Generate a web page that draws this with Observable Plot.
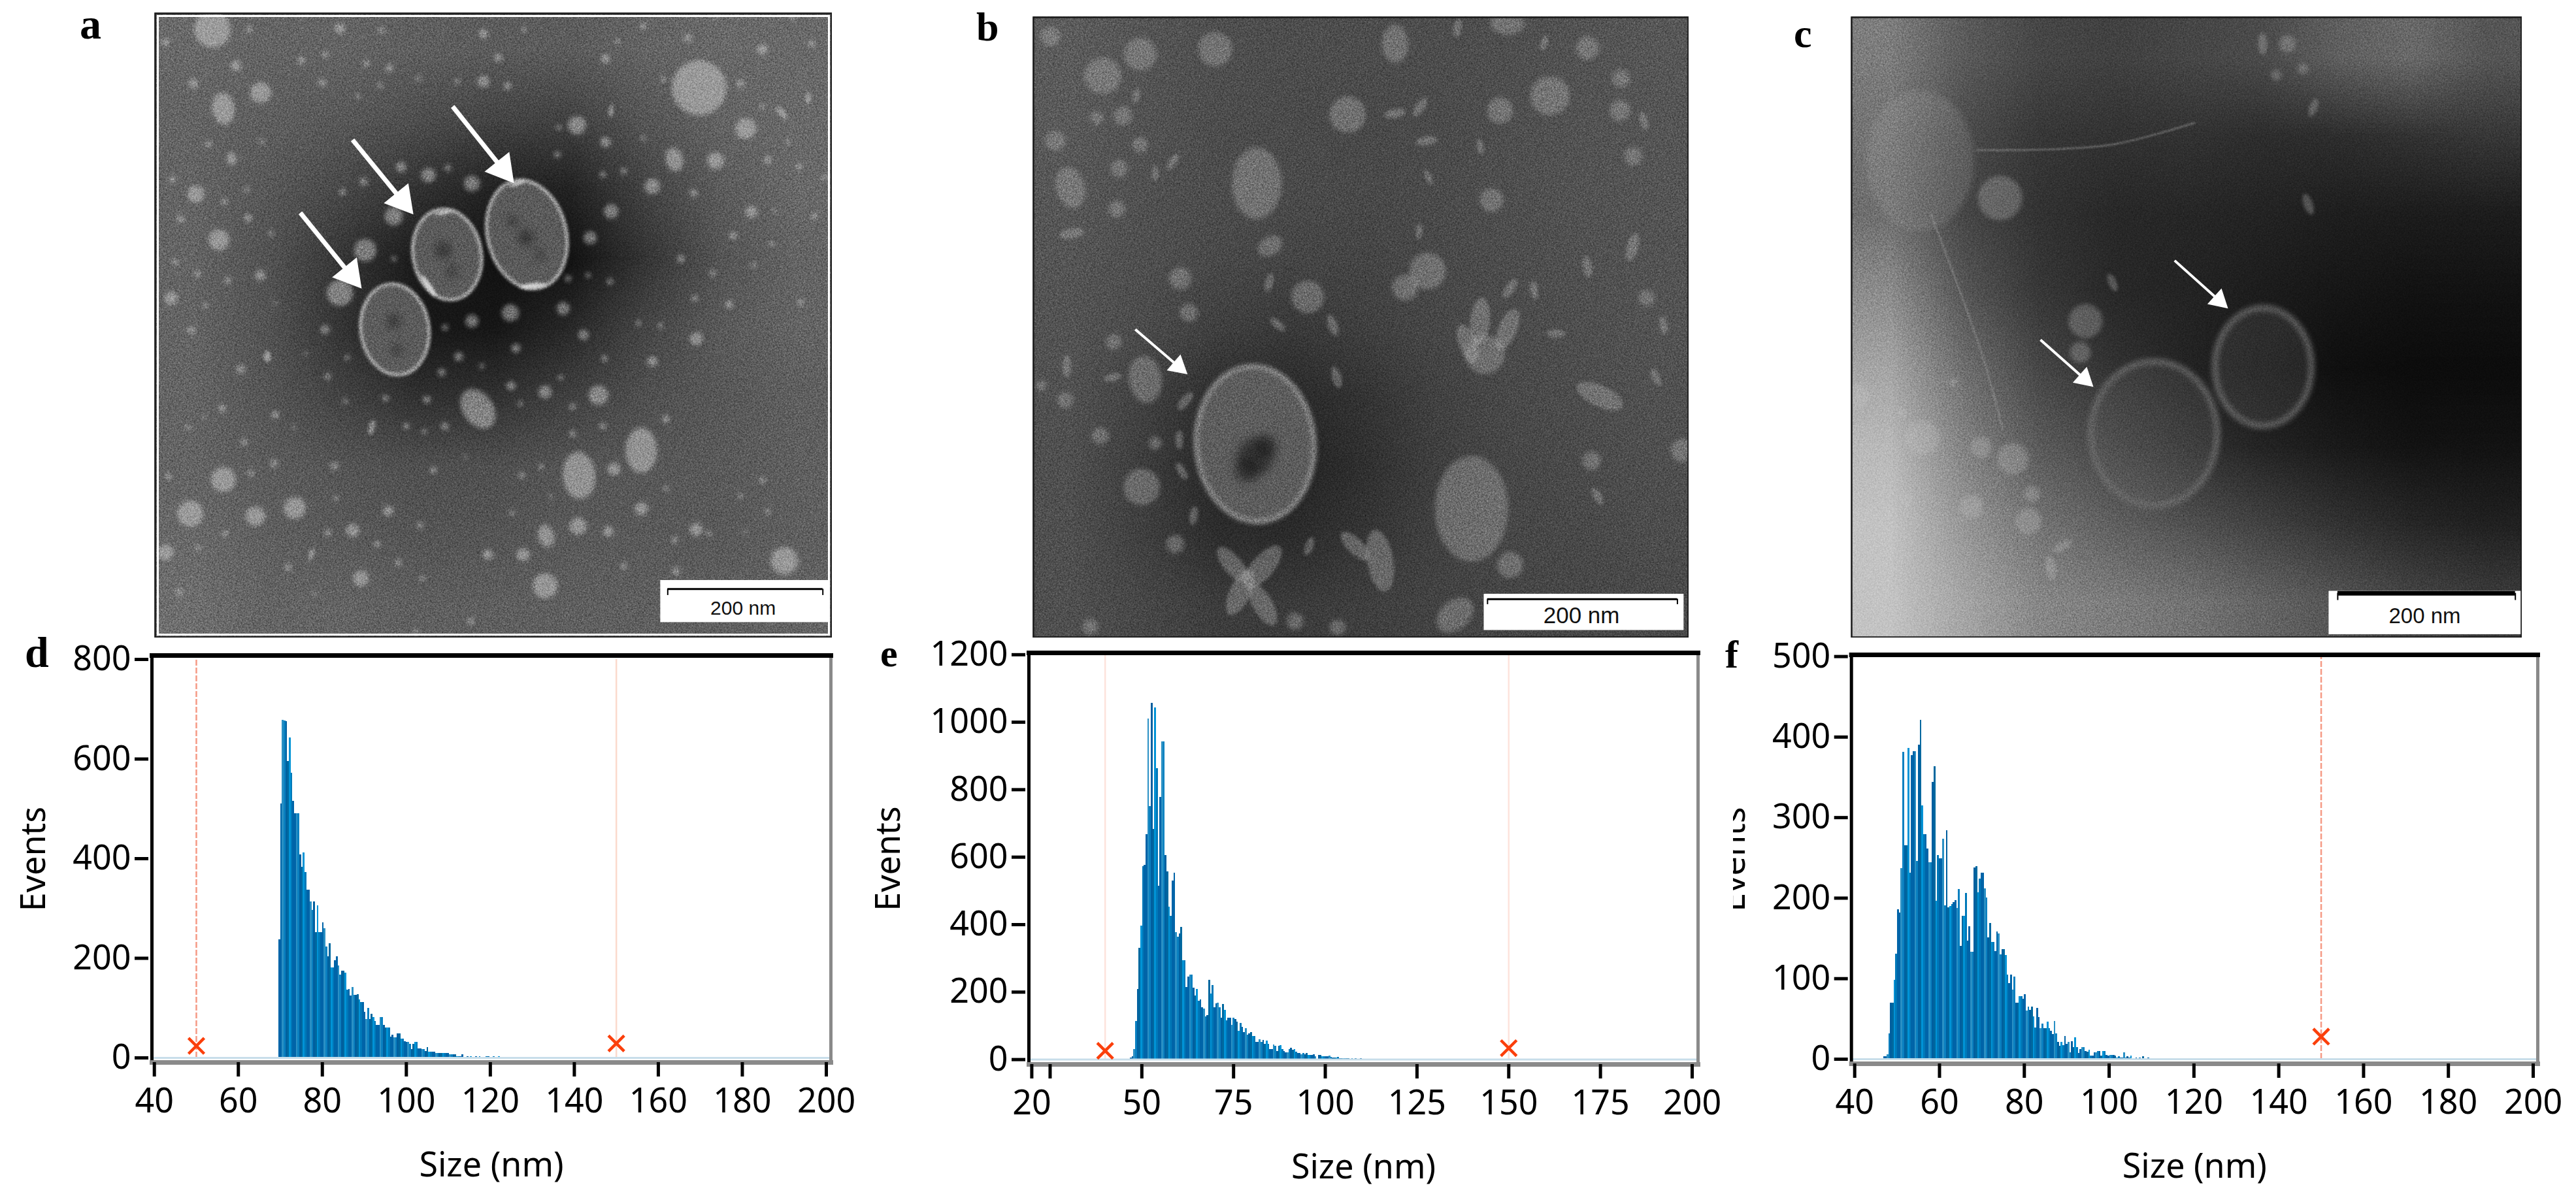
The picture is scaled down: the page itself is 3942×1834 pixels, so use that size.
<!DOCTYPE html>
<html>
<head>
<meta charset="utf-8">
<script src="https://cdn.jsdelivr.net/npm/d3@7"></script>
<script src="https://cdn.jsdelivr.net/npm/@observablehq/plot@0.6"></script>
<style>
html,body{margin:0;padding:0;background:#fff}
#stage{position:relative;width:3942px;height:1834px;overflow:hidden;background:#fff}
#stage svg{position:absolute;background:transparent}
.tag{position:absolute;font-family:"Liberation Serif",serif;font-weight:bold;font-size:64px;line-height:1;color:#000}
</style>
</head>
<body>
<svg width="0" height="0" style="position:absolute">
  <filter id="grain" x="0" y="0" width="100%" height="100%" color-interpolation-filters="sRGB">
    <feTurbulence type="fractalNoise" baseFrequency="0.7" numOctaves="2" seed="4"/>
    <feColorMatrix type="matrix" values="1.5 0 0 0 -0.25  1.5 0 0 0 -0.25  1.5 0 0 0 -0.25  0 0 0 0 1"/>
  </filter>
</svg>
<div id="stage"></div>
<script>
// ---------- size distributions (events per bin) ----------
const eventsD = [238,510,678,677,675,595,643,572,515,491,490,490,408,383,412,373,337,337,313,296,313,252,306,252,252,272,260,223,203,230,181,181,196,203,185,166,174,174,170,136,138,125,141,126,126,127,117,112,112,92,78,100,78,88,81,73,66,66,81,81,66,60,60,60,42,46,41,41,49,49,38,38,33,31,31,28,17,27,31,31,18,18,17,17,13,21,12,12,12,12,9,9,9,9,9,9,9,9,6,6,6,6,3,3,3,6,1,1,2,1,2,1,1,2,1,2,1,1,1,2,2,1,1,2,1,1,2,1,1,1,0,1,1,0,1,0,1,0,0,1,0,1,0,0,1,0,0,1];
const eventsE = [5,8,30,114,209,330,397,572,577,667,1010,751,1057,683,1042,862,514,778,942,942,605,556,452,425,529,553,376,364,372,393,293,293,215,246,251,251,213,188,209,173,178,154,150,127,131,236,194,219,155,165,167,155,123,163,146,116,123,123,102,123,119,112,85,108,96,81,93,73,77,81,68,68,51,51,60,51,58,45,56,45,31,31,43,39,25,39,41,30,25,20,20,31,35,28,30,22,18,18,15,18,15,18,12,12,12,14,8,2,12,12,8,8,8,8,10,7,5,5,5,7,3,3,3,4,3,3,2,3,2,4,2,2,3,2,1,2,2,1,2,1,1,1,2,1,1,0,1,1,0,1,0,0,1];
const eventsF = [3,3,6,32,70,70,98,131,186,182,237,381,265,265,386,231,377,382,382,246,390,421,315,279,279,261,244,244,344,363,196,253,249,249,273,191,284,188,190,192,195,197,187,211,140,178,178,206,147,165,133,133,238,239,207,224,231,231,212,200,151,169,145,145,134,158,156,130,136,136,129,105,94,105,86,102,70,70,78,78,75,80,60,65,61,65,53,39,63,52,38,44,38,38,46,38,35,31,47,32,21,16,21,17,28,19,21,8,22,15,27,15,7,12,15,15,10,9,11,4,4,8,8,10,10,4,10,10,5,4,5,5,5,4,2,3,2,2,8,2,3,2,4,1,1,2,1,2,1,3,1,1,2,1,1,0,1,1,0,1];

const sizeTicksD = [40,60,80,100,120,140,160,180,200];
const sizeTicksE = [20,25,50,75,100,125,150,175,200];
const sizeTicksF = [40,60,80,100,120,140,160,180,200];
const eventTicksD = [0,200,400,600,800];
const eventTicksE = [0,200,400,600,800,1000,1200];
const eventTicksF = [0,100,200,300,400,500];
const gatesD = [{size:50,events:24,line:"#f59a85",dash:"9,3"},{size:150,events:29,line:"#fbd9cc",dash:"none"}];
const gatesE = [{size:40,events:26,line:"#fde3dc",dash:"none"},{size:150,events:34,line:"#fde3dc",dash:"none"}];
const gatesF = [{size:150,events:28,line:"#f59a85",dash:"9,3"}];
const barShades = ["#0064a8","#0064a8","#2a90c4","#0a80c0","#005f9f","#00689f","#0093d6","#0078b8"];

// ---------- micrograph a ----------
const greyA = [105,100,100,95,92,92,100,105,105, 100,95,88,78,68,66,86,100,105, 100,88,72,50,34,34,68,92,105, 100,82,52,26,18,18,52,85,100, 100,82,50,24,22,40,70,90,100, 100,85,66,48,50,65,80,88,95, 100,92,85,80,80,85,88,90,95, 105,95,90,85,85,90,90,90,95, 110,100,100,95,95,95,95,95,100];
const roundA = [[385,70,28],[1270,210,42],[473,222,16],[1048,300,14],[1355,308,16],[1300,385,13],[355,465,13],[397,575,16],[663,600,17],[617,702,20],[715,518,14],[778,420,11],[857,440,12],[927,750,13],[857,770,10],[1023,740,10],[1072,570,10],[1110,507,11],[1185,447,12],[1100,340,8],[1087,948,15],[990,940,10],[405,1150,19],[345,1232,20],[463,1238,15],[535,1218,17],[300,1325,12],[655,1387,12],[640,1272,10],[990,1405,19],[1050,1262,13],[950,1330,10],[886,1330,8],[1425,1345,21],[1165,1220,10],[1105,1275,8],[1265,1270,10],[1115,1125,10],[310,715,10],[1265,812,10],[1185,867,8],[1365,508,9],[1060,803,8],[300,100,6],[452,70,5],[617,68,8],[692,72,5],[878,80,7],[952,70,4],[1168,62,5],[1250,90,6],[1385,118,8],[1475,105,5],[1440,42,4],[1122,98,4],[590,130,5],[547,145,6],[428,157,8],[665,152,5],[707,163,6],[905,138,6],[1100,140,7],[1300,45,3],[350,200,7],[585,198,6],[690,205,4],[760,188,4],[830,195,4],[878,195,9],[922,205,6],[650,230,4],[1205,190,4],[1345,200,6],[1385,255,4],[378,345,5],[475,340,4],[1015,305,4],[1168,330,4],[1432,340,4],[1012,370,5],[1395,383,6],[1452,400,5],[1498,425,4],[312,430,5],[1095,418,5],[1133,410,5],[728,400,8],[660,435,6],[622,460,5],[813,402,5],[448,455,4],[407,483,5],[327,525,6],[450,522,6],[492,560,4],[1260,463,6],[1480,518,5],[1405,505,3],[1332,565,6],[1402,585,4],[318,628,5],[358,657,5],[413,672,5],[472,660,8],[1237,620,6],[1295,655,5],[1370,635,4],[372,732,4],[500,727,3],[715,620,4],[1032,668,5],[1068,660,4],[1108,675,5],[1262,715,5],[1325,730,6],[1455,725,5],[347,792,6],[590,790,7],[808,785,5],[1160,775,4],[1200,780,4],[485,855,5],[437,885,7],[630,857,4],[555,848,3],[833,855,7],[937,835,7],[875,878,4],[802,893,6],[1098,860,5],[595,903,5],[928,925,7],[1018,905,4],[1040,975,5],[945,968,4],[775,958,6],[700,955,5],[627,962,4],[403,980,6],[500,995,6],[370,1000,3],[1210,1005,6],[1095,1022,5],[1040,1040,5],[738,1022,5],[770,1035,4],[808,1023,6],[340,1025,4],[533,1025,3],[443,1060,5],[497,1112,6],[607,1118,6],[787,1128,5],[845,1095,3],[455,1135,5],[305,1143,5],[948,1140,5],[983,1120,4],[1385,1152,5],[1210,1172,4],[610,1195,4],[705,1225,8],[930,1230,4],[1000,1190,3],[1345,1190,4],[1395,1228,4],[408,1280,5],[595,1278,5],[763,1260,5],[1225,1295,5],[1288,1280,4],[1355,1275,3],[360,1315,4],[685,1305,5],[723,1350,5],[523,1360,5],[1133,1358,5],[1228,1370,6],[767,1387,4],[325,1420,5],[570,1425,3],[855,1490,5],[755,1515,4]];
const ovalA = [[868,980,23,-35],[1165,1080,24,0],[1052,1140,25,-5],[992,1285,12,-15],[1225,382,13,-15],[405,260,17,-10],[420,380,7,-10]];
const longA = [[1110,265,4,5],[1468,235,4,0],[1420,270,5,-40],[565,1330,4,15],[675,1025,5,15],[485,855,4,-5]];
const ringsA = [{x:717,y:790,r:52,aspect:1.34,rot:-8},{x:812,y:610,r:52,aspect:1.34,rot:-10},{x:957,y:562,r:60,aspect:1.4,rot:-14}];
const coresA = [[715,770,10],[720,840,8],[805,600,12],[820,650,8],[955,570,12],[930,530,8],[980,610,7]];
const glintsA = [[778,685,4,-35],[968,685,4,85],[940,440,2.5,70],[805,510,2.5,80]];
const pointersA = [{x1:822,y1:255,x2:925,y2:425},{x1:640,y1:335,x2:742,y2:500},{x1:545,y1:510,x2:648,y2:678}];

// ---------- micrograph b ----------
const greyB = [92,85,79,77,77,77,79,83,87, 90,83,77,75,73,75,79,83,85, 87,81,77,75,73,75,79,83,85, 85,79,73,69,69,73,77,81,83, 83,75,63,57,63,71,75,79,83, 81,65,45,41,51,65,73,77,81, 79,61,39,35,47,63,71,75,79, 79,63,45,43,53,65,71,73,77, 79,71,61,59,63,67,69,71,73];
const roundB = [[165,88,15],[495,118,26],[270,182,28],[310,278,14],[258,283,10],[345,347,12],[175,338,15],[303,405,13],[298,502,13],[1240,115,18],[1307,188,14],[1165,230,30],[1065,265,20],[1305,265,16],[1332,375,14],[1048,480,18],[425,668,17],[442,750,14],[680,712,25],[292,820,12],[265,1045,13],[348,1168,28],[375,1063,10],[415,1305,14],[1248,1105,14],[1085,1355,20],[1358,715,12],[760,275,28],[875,690,20],[920,650,28],[345,130,25],[1430,1080,18],[245,1503,12],[655,1490,13],[740,1505,12],[195,960,12],[147,925,8],[1035,850,30]];
const ovalB = [[578,440,38,0],[1008,1220,56,0],[855,105,20,0],[1080,55,18,90],[205,450,22,-15],[355,910,25,-8],[975,1475,22,50],[605,590,14,60]];
const longB = [[1153,103,5,20],[337,230,5,10],[855,272,7,80],[905,257,7,35],[918,338,7,80],[1025,352,5,-10],[375,415,5,0],[410,388,6,35],[922,425,5,-25],[903,555,5,5],[1353,290,6,-15],[1330,593,9,15],[208,560,8,80],[1240,640,7,-10],[603,678,6,15],[1085,692,7,35],[1133,695,6,-10],[620,778,6,-50],[730,780,7,-20],[1177,800,6,90],[1392,780,6,-10],[1377,905,6,-25],[738,905,7,-15],[198,878,7,0],[290,905,6,75],[435,962,7,40],[423,1055,6,0],[428,1130,6,-30],[452,1237,6,10],[683,1310,6,20],[1260,1190,6,-30],[980,68,6,10],[1265,950,16,-65],[1025,770,15,5],[1080,790,14,22],[1000,825,13,-20],[825,1345,20,-10],[775,1310,12,-45],[590,1360,17,40],[530,1355,14,-40],[545,1420,16,25],[590,1450,15,-30]];
const ringsB = [{x:575,y:1065,r:90,aspect:1.32,rot:-4}];
const coresB = [[575,1095,28],[560,1125,20],[595,1070,18]];
const pointersB = [{x1:335,y1:790,x2:432,y2:890}];

// ---------- micrograph c ----------
const greyC = [125,90,70,65,70,75,95,105,85, 115,75,55,50,50,45,45,50,55, 110,70,50,40,38,35,30,28,28, 140,85,55,40,35,28,22,18,18, 165,110,70,50,35,25,15,12,12, 185,130,90,70,50,35,25,18,18, 195,150,115,95,80,65,50,38,32, 195,165,135,125,115,100,85,70,60];
const roundC = [[455,475,34],[365,917,7],[265,990,7],[305,1050,26],[418,1072,16],[480,1100,24],[517,1185,12],[510,1250,20],[620,770,26],[610,845,16],[1010,105,13],[1040,165,8],[988,180,8],[180,950,18],[275,1200,10],[400,1215,18]];
const longC = [[962,105,7,0],[1060,258,6,20],[1050,490,7,-20],[672,678,6,-25],[575,1310,7,60],[553,1362,8,-8]];
const ringsC = [{x:300,y:385,r:83,aspect:1.3,rot:0,fill:"#b0b0b0",opacity:.2,width:0},{x:752,y:1040,r:97,aspect:1.14,rot:0},{x:963,y:880,r:74,aspect:1.22,rot:0}];
const fibreOne = [[410,360],[560,358],[680,345],[830,295]];
const fibreTwo = [[320,510],[360,640],[420,850],[460,1030]];
const pointersC = [{x1:792,y1:625,x2:888,y2:732},{x1:533,y1:815,x2:628,y2:920}];

// ---------- helpers ----------
const stage = document.getElementById("stage");
function place(svg, left, top){ svg.style.left = left+"px"; svg.style.top = top+"px"; stage.appendChild(svg); }
function tag(text, left, top, size){ const t=document.createElement("div"); t.className="tag"; t.textContent=text; t.style.left=left+"px"; t.style.top=top+"px"; t.style.fontSize=size+"px"; stage.appendChild(t); }
function ellipse(a){ return {draw(c,size){ const r=Math.sqrt(size/Math.PI), k=0.5523, ry=r*a; c.moveTo(r,0); c.bezierCurveTo(r,k*ry,k*r,ry,0,ry); c.bezierCurveTo(-k*r,ry,-r,k*ry,-r,0); c.bezierCurveTo(-r,-k*ry,-k*r,-ry,0,-ry); c.bezierCurveTo(k*r,-ry,r,-k*ry,r,0); c.closePath(); }}; }

function histogram(o){
  const rows = o.events.map((v,i)=>({x1:o.start+i*o.bin,x2:o.start+(i+1)*o.bin,v,shade:barShades[i%barShades.length]}));
  const tickFmt = d => (d===25 ? "" : String(d));
  const top = o.yTicks[o.yTicks.length-1];
  const svg = Plot.plot({
    width:o.width,height:o.height,marginLeft:o.ml,marginRight:o.mr,marginTop:o.mt,marginBottom:o.mb,
    insetLeft:o.il,insetRight:o.ir,insetTop:o.it,insetBottom:o.ib,
    x:{domain:[o.xTicks[0],200]},y:{domain:[0,top]},
    color:{type:"identity"},
    style:{fontFamily:"'Noto Sans',sans-serif",background:"transparent",overflow:"hidden"},
    marks:[
      o.gates.map(g=>Plot.ruleX([g],{x:"size",y1:0,y2:top,stroke:g.line,strokeWidth:2.5,strokeDasharray:g.dash})),
      Plot.rectY(rows,{x1:"x1",x2:"x2",y:"v",fill:"shade",shapeRendering:"crispEdges"}),
      Plot.ruleY([0],{stroke:"#c8deea",strokeWidth:3}),
      Plot.dot(o.gates,{x:"size",y:"events",symbol:"times",r:11,stroke:"#fb3f0b",strokeWidth:4.5}),
      Plot.frame({anchor:"left",stroke:"#000",strokeWidth:5}),
      Plot.frame({anchor:"bottom",stroke:"#8a8a8a",strokeWidth:7}),
      Plot.frame({anchor:"right",stroke:"#8a8a8a",strokeWidth:5}),
      Plot.frame({anchor:"top",stroke:"#000",strokeWidth:7}),
      Plot.axisX({ticks:o.xTicks,tickFormat:tickFmt,tickSize:22,tickPadding:18,strokeWidth:5,stroke:"#000",fill:"#000",fontSize:52,label:"Size (nm)",labelAnchor:"center",labelArrow:"none",labelOffset:o.xOff,marginBottom:o.mb}),
      Plot.axisY({ticks:o.yTicks,tickFormat:d=>String(d),tickSize:21,tickPadding:6,strokeWidth:5,stroke:"#000",fill:"#000",fontSize:52,dx:-5,label:"Events",labelAnchor:"center",labelArrow:"none",labelOffset:o.yOff,marginLeft:o.ml})
    ]
  });
  place(svg,o.left,o.top);
}

function micrograph(o){
  const R = v => (v||[]).map(d=>({x:d[0],y:d[1],r:d[2],rot:d[3]||0}));
  const blobFill = o.blobFill, blobOpacity = o.blobOpacity;
  const sx = (o.xd[1]-o.xd[0])/o.width, sy = (o.yd[1]-o.yd[0])/o.height;
  const heads = o.pointers.map(p=>{
    const dx=(p.x2-p.x1)/sx, dy=(p.y2-p.y1)/sy, L=Math.hypot(dx,dy), back=o.arrowHead*0.55;
    return {x:p.x2-dx/L*back*sx,y:p.y2-dy/L*back*sy,rot:Math.atan2(dx,-dy)*180/Math.PI};
  });
  const shafts = o.pointers.map((p,i)=>({x1:p.x1,y1:p.y1,x2:heads[i].x,y2:heads[i].y}));
  const ringMarks = (o.rings||[]).flatMap(g=>[
    Plot.dot([g],{x:"x",y:"y",r:"r",rotate:"rot",symbol:ellipse(g.aspect),fill:g.fill||o.ringFill,fillOpacity:g.opacity||o.ringOpacity,stroke:o.ringStroke,strokeWidth:g.width===undefined?o.ringWidth:g.width,imageFilter:"blur("+(o.ringBlur||2)+"px)"})
  ]);
  const svg = Plot.plot({
    width:o.width,height:o.height,margin:0,
    x:{domain:o.xd,axis:null},y:{domain:o.yd,axis:null,reverse:true},
    r:{type:"identity"},
    color:{type:"linear",domain:[0,255],range:["#000","#fff"]},
    style:{background:"transparent"},
    marks:[
      Plot.raster(o.grey,{width:o.gw,height:o.gh,x1:o.xd[0],x2:o.xd[1],y1:o.yd[0],y2:o.yd[1]}),
      Plot.dot(R(o.round),{x:"x",y:"y",r:"r",fill:blobFill,fillOpacity:blobOpacity,imageFilter:"blur(3px)"}),
      Plot.dot(R(o.oval),{x:"x",y:"y",r:"r",rotate:"rot",symbol:ellipse(1.45),fill:blobFill,fillOpacity:blobOpacity,imageFilter:"blur(3px)"}),
      Plot.dot(R(o.long),{x:"x",y:"y",r:"r",rotate:"rot",symbol:ellipse(2.4),fill:blobFill,fillOpacity:blobOpacity,imageFilter:"blur(2px)"}),
      ...ringMarks,
      Plot.dot(R(o.cores),{x:"x",y:"y",r:"r",fill:"#1c1c1c",fillOpacity:.6,imageFilter:"blur(7px)"}),
      Plot.dot(R(o.glints),{x:"x",y:"y",r:"r",rotate:"rot",symbol:ellipse(5),fill:"#ececec",fillOpacity:.8,imageFilter:"blur(2px)"}),
      o.fibres ? o.fibres.map(f=>Plot.line(f,{x:"0",y:"1",stroke:"#9a9a9a",strokeOpacity:.45,strokeWidth:3,curve:"catmull-rom",imageFilter:"blur(1px)"})) : null,
      Plot.frame({fill:"#808080",imageFilter:"url(#grain)",opacity:o.grain,mixBlendMode:"overlay"}),
      Plot.link(shafts,{x1:"x1",y1:"y1",x2:"x2",y2:"y2",stroke:"#fff",strokeWidth:o.arrowWidth}),
      Plot.dot(heads,{x:"x",y:"y",r:o.arrowHead*0.6,rotate:"rot",symbol:"triangle",fill:"#fff"}),
      Plot.rect([o.bar],{x1:"x1",x2:"x2",y1:"y1",y2:"y2",fill:"#fff"}),
      Plot.ruleY([o.bar],{y:"ly",x1:"lx1",x2:"lx2",stroke:"#000",strokeWidth:o.bar.lw}),
      Plot.ruleX(o.bar.ends?[o.bar.lx1,o.bar.lx2]:[],{x:d=>d,y1:o.bar.ly,y2:o.bar.ly2,stroke:"#000",strokeWidth:2}),
      Plot.text([o.bar],{x:"tx",y:"ty",text:()=>"200 nm",fontSize:o.bar.fs,fontFamily:"'Liberation Sans',Arial,sans-serif",fill:"#111"}),
      o.white ? Plot.frame({inset:5,stroke:"#fff",strokeWidth:3}) : null,
      Plot.frame({inset:1,stroke:"#1a1a1a",strokeWidth:2.5})
    ]
  });
  place(svg,o.left,o.top);
}

// ---------- micrographs ----------
micrograph({left:236,top:19,width:1037,height:957,xd:[280,1512],yd:[30,1530],grey:greyA,gw:9,gh:9,white:true,grain:.7,
  round:roundA,oval:ovalA,long:longA,rings:ringsA,cores:coresA,glints:glintsA,pointers:pointersA,blobFill:"#d6d6d6",blobOpacity:.47,
  ringFill:"#5f5f5f",ringOpacity:.95,ringStroke:"#b0b0b0",ringWidth:5,arrowWidth:7,arrowHead:30,
  bar:{x1:1200,x2:1505,y1:1392,y2:1493,ly:1413,ly2:1428,lx1:1213,lx2:1495,lw:3,ends:true,tx:1350,ty:1460,fs:30}});
micrograph({left:1580,top:25,width:1004,height:951,xd:[130,1443],yd:[40,1530],grey:greyB,gw:9,gh:9,grain:.7,
  round:roundB,oval:ovalB,long:longB,rings:ringsB,cores:coresB,pointers:pointersB,blobFill:"#a8a8a8",blobOpacity:.42,
  ringFill:"#636363",ringOpacity:.9,ringStroke:"#868686",ringWidth:8,ringBlur:3,arrowWidth:4,arrowHead:20,
  bar:{x1:1033,x2:1433,y1:1425,y2:1512,ly:1437,ly2:1450,lx1:1040,lx2:1420,lw:3,ends:true,tx:1228,ty:1477,fs:35}});
micrograph({left:2832,top:25,width:1027,height:951,xd:[167,1463],yd:[40,1530],grey:greyC,gw:9,gh:8,grain:.5,
  round:roundC,long:longC,rings:ringsC,fibres:[fibreOne,fibreTwo],pointers:pointersC,blobFill:"#c4c4c4",blobOpacity:.3,
  ringFill:"#787878",ringOpacity:.2,ringStroke:"#6e6e6e",ringWidth:7,ringBlur:4,arrowWidth:4,arrowHead:20,
  bar:{x1:1090,x2:1463,y1:1418,y2:1522,ly:1423,ly2:1440,lx1:1107,lx2:1450,lw:7,ends:true,tx:1275,ty:1478,fs:33}});

// ---------- histograms ----------
histogram({left:0,top:950,width:1320,height:884,ml:232,mr:49,mt:53,mb:208,il:3.7,ir:7,it:6,ib:7,
  xTicks:sizeTicksD,yTicks:eventTicksD,events:eventsD,start:69.6,bin:0.415,gates:gatesD,xOff:174,yOff:200});
histogram({left:1320,top:950,width:1322,height:884,ml:254,mr:44,mt:49,mb:205,il:4.4,ir:9,it:2.8,ib:7.4,
  xTicks:sizeTicksE,yTicks:eventTicksE,events:eventsE,start:46.8,bin:0.475,gates:gatesE,xOff:174,yOff:234});
histogram({left:2652,top:950,width:1290,height:884,ml:180.7,mr:59,mt:52,mb:206,il:5,ir:7,it:2.6,ib:7,
  xTicks:sizeTicksF,yTicks:eventTicksF,events:eventsF,start:46.8,bin:0.41,gates:gatesF,xOff:174,yOff:200});

// ---------- panel letters ----------
tag("a",122,4,66); tag("b",1494,10,62); tag("c",2745,20,62);
tag("d",38,966,66); tag("e",1347,970,60); tag("f",2640,972,60);
</script>
</body>
</html>
